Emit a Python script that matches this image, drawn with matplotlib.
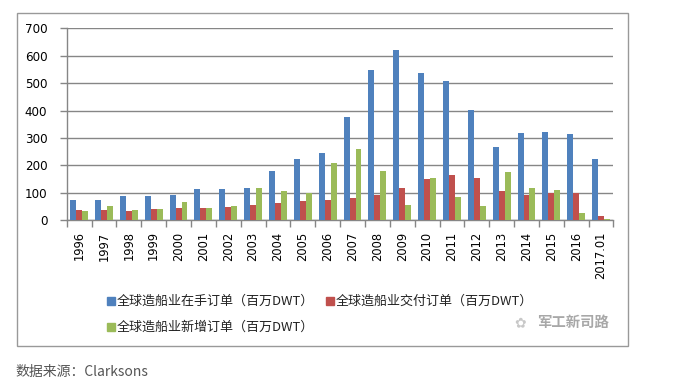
import matplotlib
matplotlib.use("Agg")
import matplotlib.pyplot as plt
from matplotlib.patches import Rectangle
import numpy as np

# 数据 (百万DWT)
years = ["1996", "1997", "1998", "1999", "2000", "2001", "2002", "2003", "2004", "2005", "2006",
         "2007", "2008", "2009", "2010", "2011", "2012", "2013", "2014", "2015", "2016", "2017.01"]
orderbook = [74, 74, 89, 89, 92, 114, 114, 118, 180, 224, 245,
             377, 548, 621, 537, 508, 401, 267, 318, 322, 315, 224]
deliveries = [38, 38, 34, 43, 45, 45, 49, 56, 63, 70, 74,
              81, 92, 118, 151, 165, 154, 107, 92, 100, 100, 16]
new_orders = [34, 52, 38, 43, 68, 45, 52, 118, 107, 98, 209,
              260, 180, 56, 154, 85, 52, 176, 118, 111, 27, 5]
legend_labels = ["全球造船业在手订单（百万DWT）", "全球造船业交付订单（百万DWT）", "全球造船业新增订单（百万DWT）"]
yticks = [0, 100, 200, 300, 400, 500, 600, 700]

colors = ["#4F81BD", "#C0504D", "#9BBB59"]
grey = "#868686"
cjk = ["Noto Sans CJK SC", "DejaVu Sans"]

W, H = 683, 392
fig = plt.figure(figsize=(W / 100, H / 100), dpi=100)
fig.patch.set_facecolor("white")

# 外框
fig.patches.append(Rectangle((17 / W, 1 - 346 / H), (628 - 17) / W, (346 - 13) / H,
                             transform=fig.transFigure, fill=False, edgecolor="#999999", lw=1.0))

ax = fig.add_axes([66.7 / W, 1 - 220.3 / H, (613.5 - 66.7) / W, (220.3 - 28.3) / H])
x = np.arange(len(years))
bw = 0.24
ax.bar(x - bw, orderbook, bw, color=colors[0], zorder=3)
ax.bar(x, deliveries, bw, color=colors[1], zorder=3)
ax.bar(x + bw, new_orders, bw, color=colors[2], zorder=3)

ax.set_xlim(-0.5, len(years) - 0.5)
ax.set_ylim(0, 700)
ax.set_yticks(yticks)
ax.set_yticklabels([str(v) for v in yticks], fontsize=8.6)
ax.yaxis.grid(True, color=grey, lw=1.0, zorder=0)

# 类别之间的刻度线
ax.set_xticks(np.arange(len(years) + 1) - 0.5)
ax.set_xticklabels([])
ax.set_xticks(x, minor=True)
ax.set_xticklabels(years, minor=True, rotation=90, fontsize=8.3)
ax.tick_params(axis="x", which="major", length=5, color=grey, width=1)
ax.tick_params(axis="x", which="minor", length=0, pad=8)
ax.tick_params(axis="y", length=5, color=grey, width=1, pad=9)

for s in ["top", "right"]:
    ax.spines[s].set_visible(False)
for s in ["left", "bottom"]:
    ax.spines[s].set_color(grey)
    ax.spines[s].set_linewidth(1.0)

# 图例
legend_pos = [(107, 301), (326, 301), (107, 327)]
for (lx, ly), c, lab in zip(legend_pos, colors, legend_labels):
    fig.patches.append(Rectangle((lx / W, 1 - (ly + 4) / H), 8 / W, 8 / H,
                                 transform=fig.transFigure, color=c))
    fig.text((lx + 10) / W, 1 - ly / H, lab, family=cjk, fontsize=9.4,
             va="center", ha="left", color="#222222")

# 水印
fig.text(537 / W, 1 - 323 / H, "军工新司路", family=cjk, fontsize=10.4,
         va="center", ha="left", color="#a8a8a8", fontweight="bold")
fig.text(520 / W, 1 - 323 / H, "✿", fontsize=10, va="center", ha="center", color="#c8c8c8")

# 数据来源
fig.text(15 / W, 1 - 372 / H, "数据来源：Clarksons", family=cjk, fontsize=10,
         va="center", ha="left", color="#555555")

fig.savefig("out.png", dpi=100)
